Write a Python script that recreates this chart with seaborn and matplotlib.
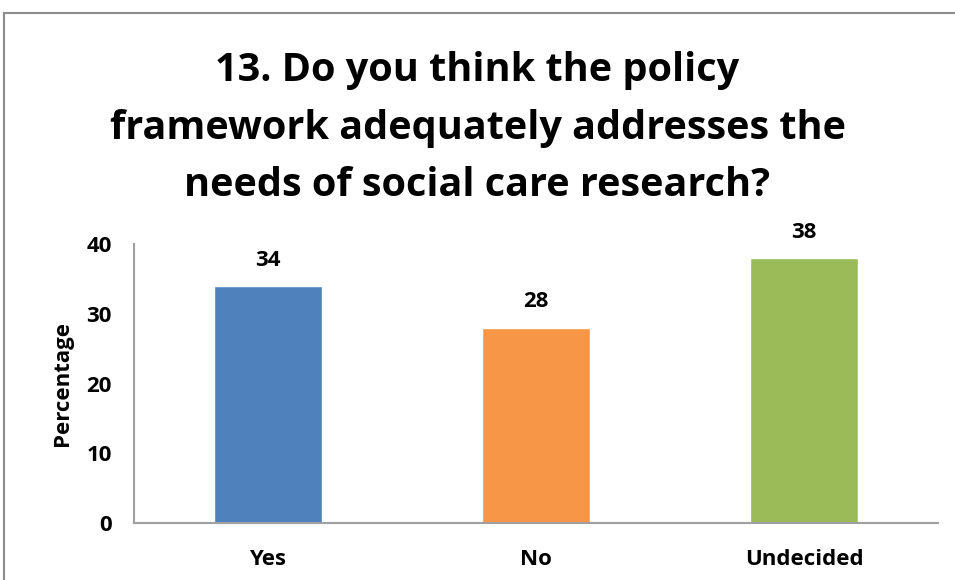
import matplotlib
matplotlib.use("Agg")
import matplotlib.pyplot as plt
import seaborn as sns
import pandas as pd
from matplotlib.patches import Rectangle

categories = ["Yes", "No", "Undecided"]
values = [34, 28, 38]
colors = ["#4F81BD", "#F79646", "#9BBB59"]
yticks = [0, 10, 20, 30, 40]
title = "13. Do you think the policy\nframework adequately addresses the\nneeds of social care research?"

sns.set_theme(style="white")
plt.rcParams['font.family'] = ['Open Sans', 'DejaVu Sans']

W, H = 955, 580
fig = plt.figure(figsize=(W/100, H/100), dpi=100)
ax = fig.add_axes([134/W, 1-523/H, (938-134)/W, (523-244)/H])

df = pd.DataFrame({"cat": categories, "val": values})
sns.barplot(data=df, x="cat", y="val", hue="cat", palette=colors, width=0.4,
            ax=ax, legend=False, saturation=1)

ax.set_ylim(0, 40)
ax.set_yticks(yticks)
ax.set_xlim(-0.5, 2.5)
for s in ["top", "right"]:
    ax.spines[s].set_visible(False)
for s in ["left", "bottom"]:
    ax.spines[s].set_color("#A0A0A0")
    ax.spines[s].set_linewidth(1.5)
ax.tick_params(axis="both", length=0, labelsize=16)
ax.tick_params(axis="y", pad=16)
ax.tick_params(axis="x", pad=19)
for lbl in ax.get_xticklabels() + ax.get_yticklabels():
    lbl.set_fontweight("bold")
    lbl.set_color("black")
ax.set_xlabel("")
ax.set_ylabel("Percentage", fontsize=16, fontweight="bold", color="black", labelpad=10)

for i, v in enumerate(values):
    ax.annotate(str(v), (i, v), xytext=(0, 11), textcoords="offset points",
                ha="center", va="bottom", fontsize=16, fontweight="bold", color="black")

fig.text(0.5, 1-128/H, title, ha="center", va="center", fontsize=28.5,
         fontweight="bold", color="black", linespacing=1.63)

fig.patches.append(Rectangle((4/W, -0.1), 1.2, 1-13/H+0.1, transform=fig.transFigure,
                             fill=False, edgecolor="#8C8C8C", linewidth=1.5))

fig.savefig("out.png", dpi=100)
